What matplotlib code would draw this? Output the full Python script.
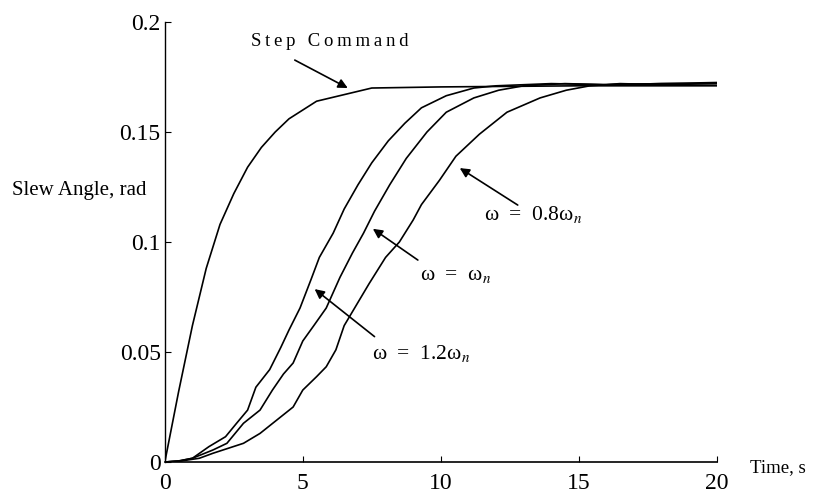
import matplotlib
matplotlib.use("Agg")
import matplotlib.pyplot as plt
import numpy as np

plt.rcParams['font.family'] = ['Liberation Serif', 'DejaVu Serif']
plt.rcParams['mathtext.fontset'] = 'stix'

# Step command response
t_step = [0, 0.5, 1.0, 1.5, 2.0, 2.5, 3.0, 3.5, 4.0, 4.5, 5.0, 5.5, 6.0, 6.5, 7.0, 7.5, 10, 15, 20]
v_step = [0, 0.032, 0.062, 0.088, 0.108, 0.122, 0.134, 0.143, 0.150, 0.156, 0.160, 0.164,
          0.1655, 0.167, 0.1685, 0.170, 0.1705, 0.171, 0.171]

# omega = 1.2 omega_n
t_12 = [0, 0.5, 1.0, 1.6, 2.2, 2.6, 3.0, 3.3, 3.8, 4.2, 4.5, 4.9, 5.3, 5.6, 6.1, 6.5, 7.0,
        7.5, 8.1, 8.7, 9.3, 10.2, 11.2, 12.0, 14, 16, 18, 20]
v_12 = [0, 0.0005, 0.0017, 0.007, 0.0115, 0.0176, 0.0236, 0.034, 0.042, 0.052, 0.060, 0.070,
        0.083, 0.093, 0.104, 0.115, 0.126, 0.136, 0.146, 0.154, 0.161, 0.1665, 0.170, 0.171,
        0.172, 0.1715, 0.172, 0.1725]

# omega = omega_n
t_10 = [0, 0.5, 1.0, 1.75, 2.25, 2.85, 3.45, 3.9, 4.3, 4.65, 5.0, 5.4, 5.85, 6.35, 6.8, 7.2,
        7.6, 8.15, 8.75, 9.5, 10.2, 11.2, 12.1, 13.0, 14.5, 16, 18, 20]
v_10 = [0, 0.0004, 0.0017, 0.0055, 0.0085, 0.0176, 0.0236, 0.0327, 0.040, 0.045, 0.055, 0.062,
        0.070, 0.084, 0.095, 0.104, 0.114, 0.126, 0.138, 0.150, 0.159, 0.1655, 0.169, 0.171,
        0.172, 0.1715, 0.172, 0.172]

# omega = 0.8 omega_n
t_08 = [0, 0.6, 1.25, 1.75, 2.85, 3.45, 4.05, 4.65, 5.0, 5.5, 5.85, 6.2, 6.5, 7.4, 8.0, 8.5,
        9.0, 9.3, 9.95, 10.55, 11.4, 12.4, 13.6, 14.55, 15.4, 16.5, 18, 20]
v_08 = [0, 0.0005, 0.0017, 0.004, 0.0085, 0.013, 0.019, 0.025, 0.0327, 0.0388, 0.0433, 0.051,
        0.062, 0.081, 0.093, 0.100, 0.110, 0.117, 0.128, 0.139, 0.149, 0.159, 0.1655, 0.169,
        0.171, 0.172, 0.1715, 0.172]

x_ticks = [0, 5, 10, 15, 20]
y_ticks = [0, 0.05, 0.1, 0.15, 0.2]
y_ticklabels = ['0', '0.05', '0.1', '0.15', '0.2']

fig = plt.figure(figsize=(8.2, 4.97), dpi=100)
ax = fig.add_axes([0.201, 0.0704, 0.673, 0.8853])

lw = 1.2
for t, v in [(t_step, v_step), (t_12, v_12), (t_10, v_10), (t_08, v_08)]:
    ax.plot(t, v, color='black', lw=lw)

ax.set_xlim(0, 20)
ax.set_ylim(0, 0.2)
ax.spines['top'].set_visible(False)
ax.spines['right'].set_visible(False)
ax.spines['left'].set_linewidth(1.0)
ax.spines['bottom'].set_linewidth(1.2)
ax.set_xticks(x_ticks)
ax.set_xticklabels([str(x) for x in x_ticks])
ax.set_yticks(y_ticks)
ax.set_yticklabels(y_ticklabels)
ax.tick_params(direction='in', length=4, width=0.8, labelsize=17)
ax.tick_params(axis='x', pad=8)
ax.tick_params(axis='y', pad=3)

fig.text(12 / 820, 1 - 190 / 497, 'Slew Angle, rad', fontsize=15, ha='left', va='center')
fig.text(750 / 820, 1 - 468 / 497, 'Time, s', fontsize=13.5, ha='left', va='center')

arrowprops = dict(arrowstyle='-|>', color='black', lw=1.2, mutation_scale=14,
                  shrinkA=0, shrinkB=0)
ax.annotate('', xy=(6.63, 0.170), xytext=(4.71, 0.1827), arrowprops=arrowprops)
ax.text(5.98, 0.191, '\u2009'.join('Step Command'), fontsize=13.5,
        ha='center', va='center')

ax.annotate('', xy=(10.69, 0.1336), xytext=(12.79, 0.1168), arrowprops=arrowprops)
ax.text(13.33, 0.1123, r'ω  =  0.8ω$_n$', fontsize=15.5, ha='center', va='center')

ax.annotate('', xy=(7.54, 0.106), xytext=(9.17, 0.0918), arrowprops=arrowprops)
ax.text(10.54, 0.085, r'ω  =  ω$_n$', fontsize=15.5, ha='center', va='center')

ax.annotate('', xy=(5.43, 0.0786), xytext=(7.6, 0.057), arrowprops=arrowprops)
ax.text(9.28, 0.0495, r'ω  =  1.2ω$_n$', fontsize=15.5, ha='center', va='center')

fig.savefig('out.png', dpi=100)
